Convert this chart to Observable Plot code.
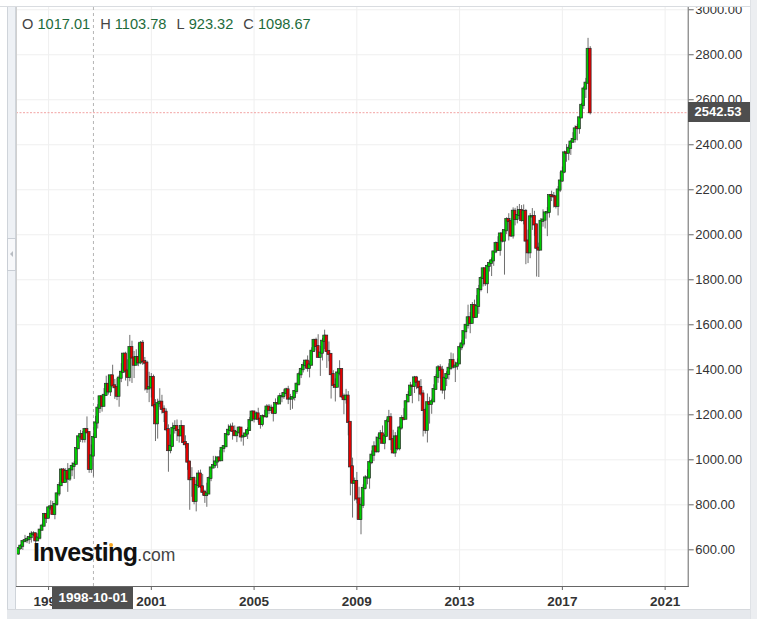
<!DOCTYPE html>
<html><head><meta charset="utf-8">
<script src="https://cdn.jsdelivr.net/npm/d3@7"></script>
<script src="https://cdn.jsdelivr.net/npm/@observablehq/plot@0.6"></script>
<style>
body{margin:0;background:#fff;font-family:"Liberation Sans",Arial,sans-serif;}
#wrap{position:relative;width:768px;height:619px;overflow:hidden;background:#fff}
#wrap svg{position:absolute;left:0;top:0}
.ov{position:absolute;box-sizing:border-box}
</style></head><body><div id="wrap"></div>
<script>
// Monthly candles, first month below, one entry per month
const startMonth = "1995-11-01";
const opens = [
581.50, 605.37,
615.93, 636.02, 640.43, 645.50, 654.17, 669.12, 670.63, 639.95, 651.99, 687.33, 705.27, 757.02,
740.74, 786.16, 790.82, 757.12, 801.34, 848.28, 885.14, 954.29, 899.47, 947.28, 914.62, 955.40,
970.43, 980.28, 1049.34, 1101.75, 1111.75, 1090.82, 1133.84, 1120.67, 957.28, 1017.01, 1098.67, 1163.63,
1229.23, 1279.64, 1238.33, 1286.37, 1335.18, 1301.84, 1372.71, 1328.72, 1320.41, 1282.71, 1362.93, 1388.91,
1469.25, 1394.46, 1366.42, 1498.58, 1452.43, 1420.60, 1454.60, 1430.83, 1517.68, 1436.51, 1429.40, 1314.95,
1320.28, 1366.01, 1239.94, 1160.33, 1249.46, 1255.82, 1224.38, 1211.23, 1133.58, 1040.94, 1059.78, 1139.45,
1148.08, 1130.20, 1106.73, 1147.39, 1076.92, 1067.14, 989.82, 911.62, 916.07, 815.28, 885.76, 936.31,
879.82, 855.70, 841.15, 848.18, 916.92, 963.59, 974.50, 990.31, 1008.01, 995.97, 1050.71, 1058.20,
1111.92, 1131.13, 1144.94, 1126.21, 1107.30, 1120.68, 1140.84, 1101.72, 1104.24, 1114.58, 1130.20, 1173.82,
1211.92, 1181.27, 1203.60, 1180.59, 1156.85, 1191.50, 1191.33, 1234.18, 1220.33, 1228.81, 1207.01, 1249.48,
1248.29, 1280.08, 1280.66, 1294.87, 1310.61, 1270.09, 1270.20, 1276.66, 1303.82, 1335.85, 1377.94, 1400.63,
1418.30, 1438.24, 1406.82, 1420.86, 1482.37, 1530.62, 1503.35, 1455.27, 1473.99, 1526.75, 1549.38, 1481.14,
1468.36, 1378.55, 1330.63, 1322.70, 1385.59, 1400.38, 1280.00, 1267.38, 1282.83, 1166.36, 968.75, 896.24,
903.25, 825.88, 735.09, 797.87, 872.81, 919.14, 919.32, 987.48, 1020.62, 1057.08, 1036.19, 1095.63,
1115.10, 1073.87, 1104.49, 1169.43, 1186.69, 1089.41, 1030.71, 1101.60, 1049.33, 1141.20, 1183.26, 1180.55,
1257.64, 1286.12, 1327.22, 1325.83, 1363.61, 1345.20, 1320.64, 1292.28, 1218.89, 1131.42, 1253.30, 1246.96,
1257.60, 1312.41, 1365.68, 1408.47, 1397.91, 1310.33, 1362.16, 1379.32, 1406.58, 1440.67, 1412.16, 1416.18,
1426.19, 1498.11, 1514.68, 1569.19, 1597.57, 1630.74, 1606.28, 1685.73, 1632.97, 1681.55, 1756.54, 1805.81,
1848.36, 1782.59, 1859.45, 1872.34, 1883.95, 1923.57, 1960.23, 1930.67, 2003.37, 1972.29, 2018.05, 2067.56,
2058.90, 1994.99, 2104.50, 2067.89, 2085.51, 2107.39, 2063.11, 2103.84, 1972.18, 1920.03, 2079.36, 2080.41,
2043.94, 1940.24, 1932.23, 2059.74, 2065.30, 2096.95, 2098.86, 2173.60, 2170.95, 2168.27, 2126.15, 2198.81,
2238.83, 2278.87, 2363.64, 2362.72, 2384.20, 2411.80, 2423.41, 2477.10, 2471.65, 2519.36, 2575.26, 2647.58,
2673.61, 2823.81
];
const highs = [
608.23, 622.88,
636.18, 664.23, 656.97, 656.68, 681.10, 680.32, 675.88, 671.10, 690.88, 714.10, 762.12, 761.75,
794.67, 817.68, 814.90, 804.13, 851.87, 898.70, 960.32, 961.63, 960.46, 983.12, 961.85, 986.25,
992.65, 1050.02, 1105.65, 1130.52, 1126.00, 1139.75, 1190.58, 1121.33, 1066.11, 1103.78, 1192.97, 1244.93,
1280.37, 1283.75, 1316.55, 1371.56, 1375.98, 1372.93, 1420.33, 1357.24, 1361.46, 1373.17, 1427.33, 1473.10,
1478.00, 1444.55, 1552.87, 1527.19, 1481.51, 1488.92, 1517.32, 1525.21, 1530.09, 1454.82, 1438.46, 1389.06,
1383.37, 1376.38, 1267.42, 1269.30, 1315.93, 1286.62, 1239.78, 1226.27, 1155.40, 1110.61, 1163.38, 1173.62,
1176.97, 1130.20, 1173.94, 1147.84, 1106.59, 1070.74, 994.46, 965.00, 924.02, 907.44, 951.57, 954.28,
935.05, 864.64, 895.90, 924.24, 965.38, 1015.33, 1015.41, 1011.01, 1040.29, 1053.79, 1063.65, 1112.56,
1155.38, 1158.98, 1163.23, 1150.57, 1127.74, 1146.34, 1140.84, 1108.96, 1131.54, 1142.05, 1188.46, 1217.33,
1217.80, 1212.44, 1229.11, 1191.88, 1199.56, 1219.59, 1245.15, 1245.86, 1243.13, 1233.34, 1270.64, 1275.80,
1294.90, 1297.57, 1310.88, 1318.16, 1326.70, 1290.68, 1280.42, 1306.74, 1340.28, 1389.45, 1407.89, 1431.81,
1441.61, 1461.57, 1438.89, 1498.02, 1535.56, 1540.56, 1555.90, 1503.89, 1538.74, 1576.09, 1552.76, 1523.57,
1471.77, 1396.02, 1359.68, 1404.57, 1440.24, 1404.05, 1292.17, 1313.15, 1303.04, 1167.03, 1007.51, 918.85,
943.85, 877.86, 832.98, 888.70, 930.17, 956.23, 996.68, 1039.47, 1080.15, 1101.36, 1113.69, 1130.38,
1150.45, 1112.42, 1180.16, 1219.80, 1205.13, 1131.23, 1120.95, 1129.24, 1148.90, 1196.14, 1227.08, 1262.60,
1302.67, 1344.07, 1332.28, 1370.58, 1370.58, 1345.20, 1356.48, 1307.38, 1229.29, 1292.66, 1277.55, 1269.37,
1333.47, 1378.04, 1419.15, 1422.38, 1415.32, 1363.46, 1391.74, 1426.68, 1474.51, 1470.96, 1434.27, 1448.00,
1509.94, 1530.94, 1570.28, 1597.57, 1687.18, 1654.19, 1698.78, 1709.67, 1729.86, 1775.22, 1813.55, 1849.44,
1850.84, 1867.92, 1883.97, 1897.28, 1924.03, 1968.17, 1991.39, 2005.04, 2019.26, 2018.19, 2075.76, 2093.55,
2072.36, 2119.59, 2117.52, 2125.92, 2134.72, 2129.87, 2132.82, 2112.66, 2020.86, 2094.32, 2116.48, 2104.27,
2043.94, 1962.96, 2072.21, 2111.05, 2099.06, 2120.55, 2177.09, 2193.81, 2187.87, 2169.60, 2214.10, 2277.53,
2300.99, 2371.54, 2400.98, 2398.16, 2418.71, 2453.82, 2484.04, 2490.87, 2519.44, 2582.98, 2657.74, 2694.97,
2872.87, 2835.96
];
const lows = [
576.00, 598.14,
597.29, 633.71, 627.63, 624.10, 630.07, 658.49, 605.88, 639.70, 643.97, 684.67, 703.16, 716.69,
737.01, 773.43, 756.13, 733.54, 793.21, 836.33, 882.22, 897.90, 899.47, 855.27, 903.68, 924.92,
912.83, 979.85, 1046.31, 1076.70, 1074.39, 1074.67, 1114.30, 939.98, 939.71, 923.32, 1098.67, 1136.89,
1205.46, 1211.89, 1234.72, 1282.56, 1287.63, 1281.41, 1328.72, 1268.68, 1263.03, 1233.70, 1342.96, 1387.38,
1350.14, 1325.07, 1346.62, 1339.40, 1361.09, 1420.60, 1413.89, 1422.45, 1419.44, 1305.79, 1294.90, 1254.07,
1274.62, 1228.93, 1081.19, 1091.99, 1232.00, 1203.03, 1165.54, 1124.87, 944.75, 1026.76, 1054.31, 1114.51,
1081.66, 1074.36, 1106.73, 1063.46, 1048.96, 952.92, 775.68, 833.44, 800.20, 768.63, 872.57, 871.84,
840.34, 806.29, 788.90, 847.85, 902.83, 963.42, 962.10, 960.84, 990.36, 995.97, 1031.20, 1058.20,
1105.08, 1124.44, 1087.16, 1105.49, 1076.32, 1113.32, 1078.78, 1060.72, 1101.29, 1090.19, 1127.60, 1173.76,
1163.75, 1180.95, 1163.69, 1136.15, 1146.18, 1188.30, 1183.55, 1201.07, 1205.35, 1168.20, 1201.07, 1246.59,
1245.74, 1253.61, 1268.42, 1280.74, 1245.34, 1219.29, 1224.54, 1261.30, 1290.93, 1327.10, 1360.98, 1385.93,
1403.97, 1389.42, 1363.98, 1416.37, 1476.70, 1484.18, 1454.25, 1370.60, 1439.29, 1489.56, 1406.10, 1435.65,
1270.05, 1316.75, 1256.98, 1322.70, 1373.07, 1272.00, 1200.44, 1247.45, 1106.42, 839.80, 741.02, 815.69,
804.30, 734.52, 666.79, 783.32, 866.10, 888.86, 869.32, 978.51, 991.97, 1029.38, 1029.38, 1085.89,
1071.59, 1044.50, 1101.36, 1169.43, 1040.78, 1028.33, 1010.91, 1039.70, 1039.70, 1131.87, 1173.00, 1180.55,
1257.62, 1282.86, 1249.05, 1294.70, 1311.80, 1258.07, 1282.86, 1101.54, 1114.22, 1074.77, 1158.66, 1202.37,
1257.60, 1312.41, 1340.03, 1357.38, 1291.98, 1266.74, 1325.41, 1354.65, 1396.56, 1403.28, 1343.35, 1398.11,
1426.19, 1485.01, 1501.48, 1536.03, 1581.28, 1560.33, 1606.28, 1627.47, 1632.97, 1646.47, 1746.20, 1767.99,
1770.45, 1737.92, 1834.44, 1814.36, 1859.79, 1915.98, 1930.67, 1904.78, 1964.04, 1820.66, 2001.01, 1972.56,
1988.12, 1980.90, 2039.69, 2048.38, 2067.93, 2056.32, 2044.02, 1867.01, 1871.91, 1893.70, 2019.39, 1993.26,
1812.29, 1810.10, 1932.23, 2033.80, 2025.91, 1991.68, 2074.02, 2147.58, 2119.12, 2114.72, 2083.79, 2187.44,
2233.62, 2271.65, 2322.25, 2328.95, 2352.72, 2405.70, 2407.70, 2417.35, 2446.55, 2519.36, 2557.45, 2605.52,
2673.61, 2532.69
];
const closes = [
605.37, 615.93,
636.02, 640.43, 645.50, 654.17, 669.12, 670.63, 639.95, 651.99, 687.33, 705.27, 757.02, 740.74,
786.16, 790.82, 757.12, 801.34, 848.28, 885.14, 954.29, 899.47, 947.28, 914.62, 955.40, 970.43,
980.28, 1049.34, 1101.75, 1111.75, 1090.82, 1133.84, 1120.67, 957.28, 1017.01, 1098.67, 1163.63, 1229.23,
1279.64, 1238.33, 1286.37, 1335.18, 1301.84, 1372.71, 1328.72, 1320.41, 1282.71, 1362.93, 1388.91, 1469.25,
1394.46, 1366.42, 1498.58, 1452.43, 1420.60, 1454.60, 1430.83, 1517.68, 1436.51, 1429.40, 1314.95, 1320.28,
1366.01, 1239.94, 1160.33, 1249.46, 1255.82, 1224.38, 1211.23, 1133.58, 1040.94, 1059.78, 1139.45, 1148.08,
1130.20, 1106.73, 1147.39, 1076.92, 1067.14, 989.82, 911.62, 916.07, 815.28, 885.76, 936.31, 879.82,
855.70, 841.15, 848.18, 916.92, 963.59, 974.50, 990.31, 1008.01, 995.97, 1050.71, 1058.20, 1111.92,
1131.13, 1144.94, 1126.21, 1107.30, 1120.68, 1140.84, 1101.72, 1104.24, 1114.58, 1130.20, 1173.82, 1211.92,
1181.27, 1203.60, 1180.59, 1156.85, 1191.50, 1191.33, 1234.18, 1220.33, 1228.81, 1207.01, 1249.48, 1248.29,
1280.08, 1280.66, 1294.87, 1310.61, 1270.09, 1270.20, 1276.66, 1303.82, 1335.85, 1377.94, 1400.63, 1418.30,
1438.24, 1406.82, 1420.86, 1482.37, 1530.62, 1503.35, 1455.27, 1473.99, 1526.75, 1549.38, 1481.14, 1468.36,
1378.55, 1330.63, 1322.70, 1385.59, 1400.38, 1280.00, 1267.38, 1282.83, 1166.36, 968.75, 896.24, 903.25,
825.88, 735.09, 797.87, 872.81, 919.14, 919.32, 987.48, 1020.62, 1057.08, 1036.19, 1095.63, 1115.10,
1073.87, 1104.49, 1169.43, 1186.69, 1089.41, 1030.71, 1101.60, 1049.33, 1141.20, 1183.26, 1180.55, 1257.64,
1286.12, 1327.22, 1325.83, 1363.61, 1345.20, 1320.64, 1292.28, 1218.89, 1131.42, 1253.30, 1246.96, 1257.60,
1312.41, 1365.68, 1408.47, 1397.91, 1310.33, 1362.16, 1379.32, 1406.58, 1440.67, 1412.16, 1416.18, 1426.19,
1498.11, 1514.68, 1569.19, 1597.57, 1630.74, 1606.28, 1685.73, 1632.97, 1681.55, 1756.54, 1805.81, 1848.36,
1782.59, 1859.45, 1872.34, 1883.95, 1923.57, 1960.23, 1930.67, 2003.37, 1972.29, 2018.05, 2067.56, 2058.90,
1994.99, 2104.50, 2067.89, 2085.51, 2107.39, 2063.11, 2103.84, 1972.18, 1920.03, 2079.36, 2080.41, 2043.94,
1940.24, 1932.23, 2059.74, 2065.30, 2096.95, 2098.86, 2173.60, 2170.95, 2168.27, 2126.15, 2198.81, 2238.83,
2278.87, 2363.64, 2362.72, 2384.20, 2411.80, 2423.41, 2470.30, 2471.65, 2519.36, 2575.26, 2647.58, 2673.61,
2823.81, 2542.53
];

const yTicks = [600, 800, 1000, 1200, 1400, 1600, 1800, 2000, 2200, 2400, 2600, 2800, 3000];
const xTickYears = [1997, 2001, 2005, 2009, 2013, 2017, 2021];
const headerLabels = ["O", "H", "L", "C"];
const headerValues = ["1017.01", "1103.78", "923.32", "1098.67"];
const crosshairDate = "1998-10-01";
const lastPrice = 2542.53;
const logoMain = "Investing";
const logoSuffix = ".com";

const n = Math.min(opens.length, highs.length, lows.length, closes.length);
const start = new Date(startMonth);
const candles = d3.range(n).map(i => ({
  date: d3.utcMonth.offset(start, i),
  open: opens[i], high: highs[i], low: lows[i], close: closes[i]
}));
const xTickDates = xTickYears.map(y => new Date(Date.UTC(y, 0, 1)));
const crossD = new Date(crosshairDate);

const chart = Plot.plot({
  width: 768, height: 619,
  marginLeft: 16, marginRight: 80.3, marginTop: 7, marginBottom: 33,
  style: {background: "transparent", fontFamily: "'Liberation Sans', Arial, sans-serif", color: "#333", overflow: "visible"},
  x: {type: "utc", domain: [new Date("1995-10-03"), new Date("2021-11-25")]},
  y: {domain: [437, 3010]},
  marks: [
    Plot.gridY(yTicks, {stroke: "#efefef", strokeOpacity: 1}),
    Plot.gridX(xTickDates, {stroke: "#efefef", strokeOpacity: 1}),
    Plot.ruleX([crossD], {stroke: "#b5b5b5", strokeDasharray: "3,3"}),
    Plot.ruleY([lastPrice], {stroke: "#f2a3a3", strokeDasharray: "2,1.5", strokeWidth: 1}),
    Plot.ruleX(candles, {x: "date", y1: "low", y2: "high", stroke: "#6f6f6f", strokeWidth: 1}),
    Plot.rect(candles, {
      x1: d => d3.utcDay.offset(d.date, -20), x2: d => d3.utcDay.offset(d.date, 20),
      y1: "open", y2: "close", insetTop: -0.6, insetBottom: -0.6,
      fill: d => d.close >= d.open ? "#00cc00" : "#e60000",
      stroke: "#2a2a2a", strokeWidth: 0.7
    }),
    Plot.frame({anchor: "left", stroke: "#d0d0d0"}),
    Plot.frame({anchor: "right", stroke: "#666"}),
    Plot.frame({anchor: "bottom", stroke: "#666"}),
    Plot.axisY(yTicks, {anchor: "right", tickFormat: d => d.toFixed(2), tickSize: 5, tickPadding: 2, fontSize: 13, stroke: "#666", fill: "#333"}),
    Plot.axisX(xTickDates, {anchor: "bottom", tickFormat: d3.utcFormat("%Y"), tickSize: 4, tickPadding: 6, fontSize: 13.5, fontWeight: "bold", stroke: "#666", fill: "#333"})
  ]
});

const wrap = document.getElementById("wrap");
wrap.appendChild(chart);
const sx = chart.scale("x"), sy = chart.scale("y");

function box(style, html) {
  const d = document.createElement("div");
  d.className = "ov";
  Object.assign(d.style, style);
  if (html !== undefined) d.innerHTML = html;
  wrap.appendChild(d);
  return d;
}
// top header strip (clips top label)
box({left: "0px", top: "0px", width: "757px", height: "7px", background: "#fff", borderBottom: "1px solid #d9dce0"});
// left scrollbar strip
box({left: "7px", top: "7px", width: "9px", height: "602px", background: "#eef1f5", borderLeft: "1px solid #cfd4da", borderRight: "1px solid #cfd4da"});
box({left: "7px", top: "238px", width: "9px", height: "33px", background: "#f7f8fa", border: "1px solid #c9ced5"});
box({left: "10px", top: "251px", width: "0px", height: "0px", borderTop: "3px solid transparent", borderBottom: "3px solid transparent", borderRight: "3px solid #b8bcc2"});
// bottom toolbar strip
box({left: "7px", top: "609px", width: "743px", height: "10px", background: "#e6e9ed", borderTop: "1px solid #d6d9dd"});
// right strip
box({left: "750px", top: "0px", width: "7px", height: "619px", background: "#eceef1", borderLeft: "1px solid #dfe2e6"});

// header OHLC text
const hdr = headerLabels.map((l, i) =>
  `<span style="color:#444">${l}</span>&nbsp;<span style="color:#1d6b3b">${headerValues[i]}</span>`).join('<span style="display:inline-block;width:10px"></span>');
box({left: "22px", top: "15px", fontSize: "14.6px", lineHeight: "18px", whiteSpace: "nowrap", fontFamily: "'Liberation Sans', Arial, sans-serif"}, hdr);

// crosshair date label
const cx = sx.apply(crossD);
box({left: (cx - 40.5) + "px", top: "587px", width: "81px", height: "22px", background: "#505050", color: "#fff",
  fontSize: "13.5px", fontWeight: "bold", lineHeight: "22px", textAlign: "center"}, crosshairDate);

// last price label
const py = sy.apply(lastPrice);
box({left: "687.5px", top: (py - 10) + "px", width: "62px", height: "20px", background: "#4e4e4e", color: "#fff",
  fontSize: "13px", fontWeight: "bold", lineHeight: "20px", paddingLeft: "7px"}, lastPrice.toFixed(2));

// logo
box({left: "33px", top: "537px", whiteSpace: "nowrap", lineHeight: "30px", fontFamily: "'Liberation Sans', Arial, sans-serif"},
  `<span style="font-size:25px;font-weight:bold;color:#111;letter-spacing:-0.6px">${logoMain}</span><span style="font-size:17.5px;color:#444">${logoSuffix}</span>`);
box({left: "109px", top: "543px", width: "4px", height: "4px", borderRadius: "2px", background: "#f5a623"});
</script>
</body></html>
